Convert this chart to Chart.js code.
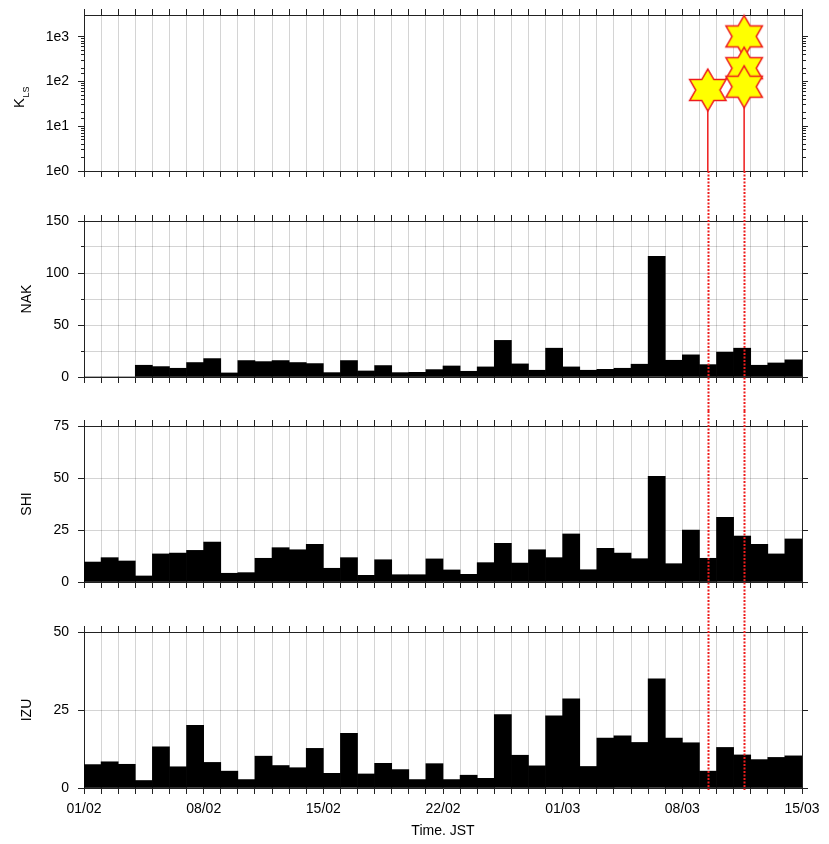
<!DOCTYPE html>
<html>
<head>
<meta charset="utf-8">
<script src="https://cdn.jsdelivr.net/npm/chart.js@4.4.1/dist/chart.umd.min.js"></script>
<style>
  body { margin: 0; background: #fff; width: 829px; height: 844px; overflow: hidden; position: relative; }
  canvas { position: absolute; left: 0; }
</style>
</head>
<body>
<canvas id="kls" width="829" height="206" style="top:0px"></canvas>
<canvas id="nak" width="829" height="205" style="top:206px"></canvas>
<canvas id="shi" width="829" height="206" style="top:411px"></canvas>
<canvas id="izu" width="829" height="227" style="top:617px"></canvas>
<script>
// daily counts, 01/02 .. 14/03 (one bar per day)
const dayLabels = ["01/02", "08/02", "15/02", "22/02", "01/03", "08/03", "15/03"];
const dayCount = 42;
const nakValues = [0, 0, 0, 11.3, 10, 8.4, 13.9, 17.7, 3.9, 15.8, 14.8, 15.8, 13.9, 12.9, 4.2, 15.8, 5.8, 11, 4.2, 4.5, 7.1,
  10.6, 5.5, 9.7, 35.2, 12.6, 6.5, 27.7, 9.7, 6.5, 7.4, 8.4, 12.3, 116, 16.1, 21.3, 11.9, 23.9, 27.7, 11.3, 13.5, 16.5];
const shiValues = [9.6, 11.7, 10.1, 2.9, 13.5, 13.9, 15.2, 19.2, 4.2, 4.5, 11.4, 16.5, 15.5, 18.1, 6.6, 11.7, 3.2, 10.7, 3.5, 3.5, 11.1,
  5.8, 3.7, 9.3, 18.6, 9.1, 15.5, 11.7, 23.1, 5.9, 16.2, 13.9, 11.2, 50.8, 8.8, 25.0, 11.4, 31.1, 22.1, 18.1, 13.5, 20.7];
const izuValues = [7.5, 8.4, 7.6, 2.4, 13.2, 6.8, 20.1, 8.2, 5.4, 2.7, 10.2, 7.2, 6.5, 12.7, 4.7, 17.5, 4.5, 7.9, 5.9, 2.7, 7.8,
  2.7, 4.1, 3.1, 23.5, 10.5, 7.1, 23.1, 28.6, 6.9, 16.0, 16.7, 14.6, 35.0, 16.0, 14.5, 5.4, 13.0, 10.6, 9.1, 9.8, 10.3];

// earthquakes (day offset from 01/02) and their K_LS
const quakeDays = [36.49, 38.615, 38.615, 38.615];
const quakeK = [65, 1030, 200, 77];
const eventDays = [36.49, 38.615];

const fontFamily = '"Liberation Sans", Arial, Helvetica, sans-serif';
const tickFont = { family: fontFamily, size: 14 };
const titleFont = { family: fontFamily, size: 14 };
const axisColor = "#222";
const gridColor = "rgba(0,0,0,0.17)";
const gridDash = [1, 1];
const red = "#ee1c1c";

const isPow10 = (v) => Math.abs(Math.log10(v) - Math.round(Math.log10(v))) < 1e-9;
const toXY = (values) => values.map((v, i) => ({ x: i + 0.5, y: v }));
const fixLeft = (s) => { s.width = 84; s.paddingTop = 0; s.paddingBottom = 0; };
const noPad = (s) => { s.paddingTop = 0; s.paddingBottom = 0; };

// hexagram used as point style
const makeStar = (r) => {
  const size = Math.ceil(r * 2 + 4);
  const c = document.createElement("canvas");
  c.width = size;
  c.height = size;
  const ctx = c.getContext("2d");
  ctx.translate(size / 2, size / 2);
  ctx.beginPath();
  for (let i = 0; i < 12; i++) {
    const rad = i % 2 === 0 ? r : r / Math.sqrt(3);
    const a = -Math.PI / 2 + (i * Math.PI) / 6;
    ctx.lineTo(rad * Math.cos(a), rad * Math.sin(a));
  }
  ctx.closePath();
  ctx.fillStyle = "#ffff00";
  ctx.fill();
  ctx.strokeStyle = red;
  ctx.lineWidth = 1.5;
  ctx.stroke();
  return c;
};

// red dotted lines at event times, mode: "below" (under plot), "through", "above" (down to plot bottom)
const eventLines = (mode) => ({
  id: "eventLines",
  afterDatasetsDraw(chart) {
    const { ctx, chartArea, scales, height } = chart;
    const y0 = mode === "below" ? chartArea.bottom : 0;
    const y1 = mode === "above" ? chartArea.bottom + 2 : height;
    ctx.save();
    ctx.strokeStyle = red;
    ctx.lineWidth = 2;
    ctx.setLineDash([2, 1.5]);
    eventDays.forEach((d) => {
      const x = Math.round(scales.x.getPixelForValue(d)) + 0.5;
      ctx.beginPath();
      ctx.moveTo(x, y0);
      ctx.lineTo(x, y1);
      ctx.stroke();
    });
    ctx.restore();
  },
});

// K with LS subscript
const kLabel = {
  id: "kLabel",
  afterDraw(chart) {
    const { ctx, chartArea } = chart;
    const cy = (chartArea.top + chartArea.bottom) / 2;
    ctx.save();
    ctx.translate(20, cy + 15);
    ctx.rotate(-Math.PI / 2);
    ctx.fillStyle = "#000";
    ctx.textBaseline = "middle";
    ctx.font = "15px " + fontFamily;
    ctx.fillText("K", 0, 0);
    const w = ctx.measureText("K").width;
    ctx.font = "9px " + fontFamily;
    ctx.fillText("LS", w + 0.5, 7);
    ctx.restore();
  },
};

const xAxes = (showLabels) => ({
  x: {
    type: "linear", position: "bottom", min: 0, max: dayCount, offset: false,
    afterFit: showLabels ? (s) => { s.height = 56; } : undefined,
    border: { color: axisColor, width: 1 },
    grid: { offset: false, color: gridColor, borderDash: gridDash, tickLength: 6, tickColor: axisColor, tickBorderDash: [] },
    ticks: {
      display: showLabels, stepSize: 1, maxTicksLimit: 100, autoSkip: false, maxRotation: 0, minRotation: 0,
      padding: 7, color: "#000", font: tickFont,
      callback: (v) => (v % 7 === 0 ? dayLabels[v / 7] : ""),
    },
    title: { display: showLabels, text: "Time. JST", color: "#000", font: titleFont, padding: { top: 5, bottom: 4 } },
  },
  x2: {
    type: "linear", position: "top", min: 0, max: dayCount, offset: false,
    border: { color: axisColor, width: 1 },
    grid: { offset: false, drawOnChartArea: false, tickLength: 6, tickColor: axisColor },
    ticks: { display: false, stepSize: 1, maxTicksLimit: 100, autoSkip: false },
  },
});

const linearY = (max, labelStep, title) => ({
  y: {
    type: "linear", position: "left", min: 0, max: max,
    afterFit: fixLeft,
    border: { color: axisColor, width: 1 },
    grid: {
      color: gridColor, borderDash: gridDash, tickLength: 6, tickColor: axisColor,
      tickBorderDash: (c) => (c.tick && c.tick.value % labelStep !== 0 ? [0, 3, 3, 20] : []),
    },
    ticks: {
      stepSize: 25, autoSkip: false, padding: 9, color: "#000", font: tickFont,
      callback: (v) => (v % labelStep === 0 ? v : ""),
    },
    title: { display: true, text: title, color: "#000", font: titleFont, padding: { top: 19, bottom: 0 } },
  },
  y2: {
    type: "linear", position: "right", min: 0, max: max,
    afterFit: noPad,
    border: { color: axisColor, width: 1 },
    grid: { drawOnChartArea: false, tickLength: 6, tickColor: axisColor },
    ticks: { display: false, stepSize: 25, autoSkip: false },
  },
});

const common = {
  responsive: false,
  animation: false,
  events: [],
  devicePixelRatio: 1,
  plugins: { legend: { display: false }, tooltip: { enabled: false } },
};

// top panel: K_LS on log scale
const logY = {
  type: "logarithmic", min: 1, max: 3100,
  afterBuildTicks: (s) => { s.ticks = s.ticks.filter((t) => t.value <= 1000); },
  border: { color: axisColor, width: 1 },
  ticks: { autoSkip: false, padding: 9, color: "#000", font: tickFont,
    callback: (v) => (isPow10(v) ? "1e" + Math.round(Math.log10(v)) : "") },
};
new Chart(document.getElementById("kls"), {
  type: "scatter",
  data: {
    datasets: [
      {
        data: quakeDays.map((d, i) => ({ x: d, y: quakeK[i] })),
        pointStyle: makeStar(21), pointRadius: 21, clip: false, order: 0,
      },
      {
        data: quakeDays.flatMap((d, i) => [{ x: d, y: 1 }, { x: d, y: quakeK[i] }, { x: d, y: null }]),
        showLine: true, spanGaps: false, borderColor: red, borderWidth: 1.5, pointRadius: 0, order: 1,
      },
    ],
  },
  options: {
    ...common,
    layout: { autoPadding: false, padding: { top: 9, bottom: 29, left: 0, right: 21 } },
    scales: {
      ...xAxes(false),
      y: { ...logY, position: "left", afterFit: fixLeft,
        grid: { drawOnChartArea: false, tickLength: 6, tickColor: axisColor,
          tickBorderDash: (c) => (c.tick && !isPow10(c.tick.value) ? [0, 3, 3, 20] : []) } },
      y2: { ...logY, position: "right", afterFit: noPad,
        ticks: { display: false, autoSkip: false },
        grid: { drawOnChartArea: false, tickLength: 6, tickColor: axisColor,
          tickBorderDash: (c) => (c.tick && !isPow10(c.tick.value) ? [3, 20] : []) } },
    },
  },
  plugins: [eventLines("below"), kLabel],
});

const barPanel = (id, values, max, labelStep, title, mode, showX, padBottom) =>
  new Chart(document.getElementById(id), {
    type: "bar",
    data: {
      datasets: [{ data: toXY(values), backgroundColor: "#000", borderWidth: 0, barPercentage: 1, categoryPercentage: 1 }],
    },
    options: {
      ...common,
      layout: { autoPadding: false, padding: { top: 9, bottom: padBottom, left: 0, right: 21 } },
      scales: { ...xAxes(showX), ...linearY(max, labelStep, title) },
    },
    plugins: [eventLines(mode)],
  });

barPanel("nak", nakValues, 150, 50, "NAK", "through", false, 28);
barPanel("shi", shiValues, 75, 25, "SHI", "through", false, 29);
barPanel("izu", izuValues, 50, 25, "IZU", "above", true, 0);
</script>
</body>
</html>
